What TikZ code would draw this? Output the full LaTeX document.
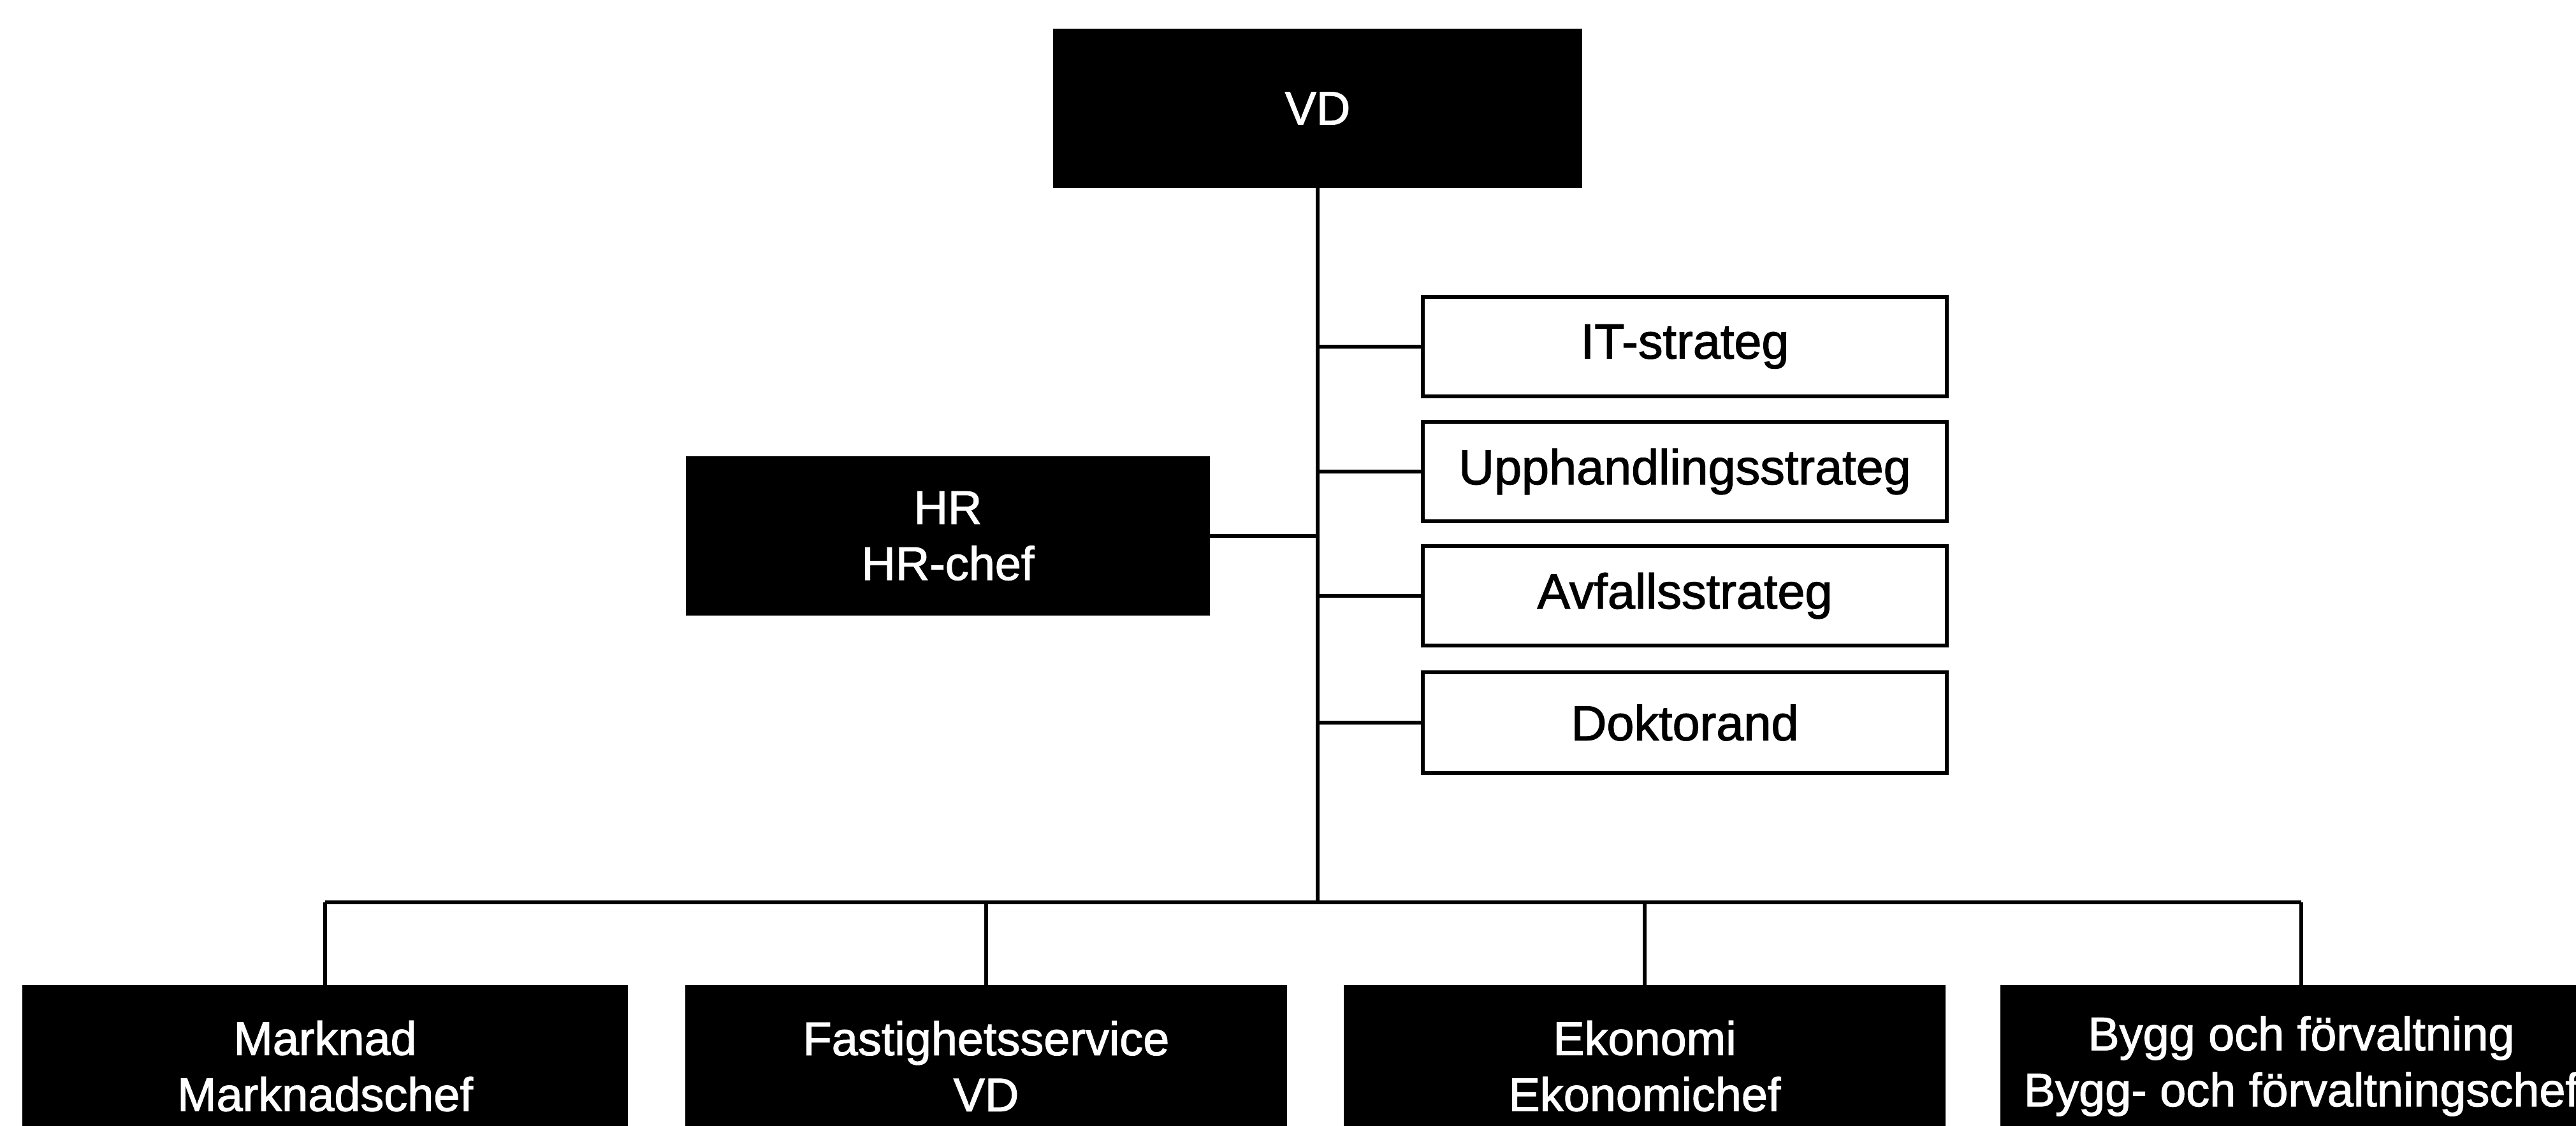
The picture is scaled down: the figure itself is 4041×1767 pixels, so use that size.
\documentclass[tikz,border=0pt]{standalone}
\usepackage{fontspec}
\setmainfont{Liberation Sans}
\newfontfamily\heavyfont[FakeBold=1.6]{Liberation Sans}
\begin{document}
\begin{tikzpicture}[x=0.01cm,y=-0.01cm,
  darkbox/.style={fill=black,draw=none,text=white,inner sep=0pt,outer sep=0pt,align=center,
    font=\heavyfont\fontsize{21}{25}\selectfont},
  lightbox/.style={fill=white,draw=black,line width=1.7pt,inner sep=0pt,outer sep=0pt,align=center,
    minimum width=8.22cm,minimum height=1.56cm,font=\heavyfont\fontsize{22}{26}\selectfont},
  conn/.style={draw=black,line width=1.7pt}]
\useasboundingbox (0,0) rectangle (4041,1767);
\clip (0,0) rectangle (4041,1767);
% top
\node[darkbox,minimum width=8.30cm,minimum height=2.50cm] (VD) at (2067,170) {VD};
\node[darkbox,minimum width=8.21cm,minimum height=2.50cm] (HR) at (1487,841) {HR\\HR-chef};
% staff boxes
\node[lightbox] (IT) at (2643,544) {IT-strateg};
\node[lightbox] (UP) at (2643,740) {Upphandlingsstrateg};
\node[lightbox] (AV) at (2643,935) {Avfallsstrateg};
\node[lightbox,minimum height=1.58cm] (DO) at (2643,1134) {Doktorand};
% bottom boxes
\node[darkbox,minimum width=9.50cm,minimum height=2.54cm] (MA) at (510,1673) {Marknad\\Marknadschef};
\node[darkbox,minimum width=9.44cm,minimum height=2.54cm] (FA) at (1547,1673) {Fastighetsservice\\VD};
\node[darkbox,minimum width=9.44cm,minimum height=2.54cm] (EK) at (2580,1673) {Ekonomi\\Ekonomichef};
\node[darkbox,minimum width=9.44cm,minimum height=2.54cm] (BY) at (3610,1673) {Bygg och förvaltning\\Bygg- och förvaltningschef};
% bus junction
\coordinate (J) at (2067,1416);
\draw[conn] (VD.south) -- (J);
\draw[conn] (HR.east) -- (HR.east -| J);
\draw[conn] (IT.west) -- (IT.west -| J);
\draw[conn] (UP.west) -- (UP.west -| J);
\draw[conn] (AV.west) -- (AV.west -| J);
\draw[conn] (DO.west) -- (DO.west -| J);
\draw[conn] (MA.north |- J) -- (BY.north |- J);
\draw[conn] (MA.north) -- (MA.north |- J);
\draw[conn] (FA.north) -- (FA.north |- J);
\draw[conn] (EK.north) -- (EK.north |- J);
\draw[conn] (BY.north) -- (BY.north |- J);
\end{tikzpicture}
\end{document}
